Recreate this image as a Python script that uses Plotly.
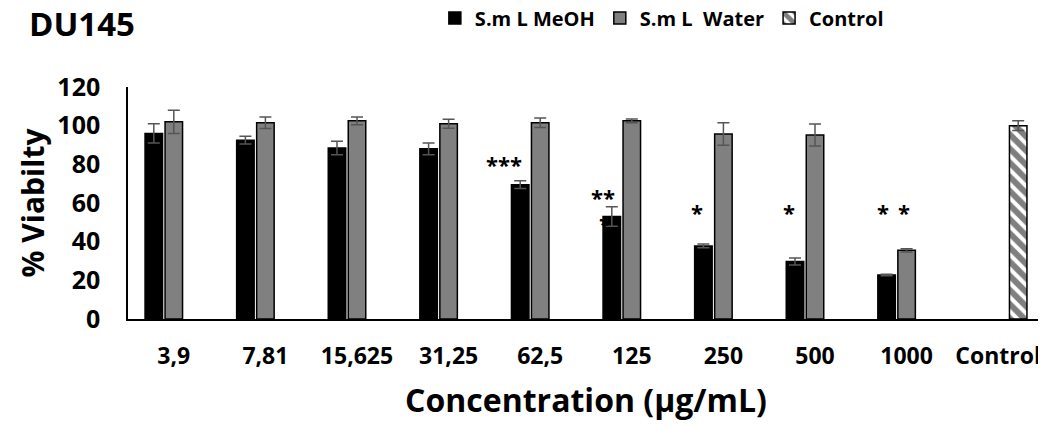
import plotly.graph_objects as go

categories = ["3,9", "7,81", "15,625", "31,25", "62,5", "125", "250", "500", "1000", "Control"]
meoh = [96, 92.5, 88.5, 88, 69.5, 53, 37.8, 29.7, 22.8, None]
meoh_err = [5, 2, 3.5, 3, 2, 5, 1, 1.8, 0.4, None]
water = [102, 101.5, 102.5, 101, 101.5, 102.5, 95.7, 95.2, 35.5, None]
water_err = [6, 3, 2, 2.3, 2.5, 1, 5.8, 5.7, 0.8, None]
control = [None] * 9 + [100]
control_err = [None] * 9 + [2.5]

sig_cats = ["62,5", "125", "125", "250", "500", "1000", "1000"]
sig_texts = ["***", "**", "*", "*", "*", "*", "*"]
sig_y = [80.2, 63.1, 49.7, 55.3, 55.3, 55.3, 55.3]
sig_shift = [-36, -29, -27, -26, -26, -24, -3]

FONT = "Open Sans"
err_col = "#555555"

# page body has an 8px default margin, so the figure is 8px smaller than the window
W, H = 1038, 419

fig = go.Figure()
fig.add_trace(go.Bar(
    x=categories, y=meoh, name="S.m L MeOH",
    marker=dict(color="black", line=dict(color="black", width=1.5)),
    error_y=dict(type="data", array=meoh_err, color=err_col, thickness=1.5, width=6),
))
fig.add_trace(go.Bar(
    x=categories, y=water, name="S.m L\u00a0 Water",
    marker=dict(color="#808080", line=dict(color="black", width=1.5)),
    error_y=dict(type="data", array=water_err, color=err_col, thickness=1.5, width=6),
))
fig.add_trace(go.Bar(
    x=categories, y=control, name="Control",
    marker=dict(color="white", line=dict(color="black", width=1.5),
                pattern=dict(shape="\\", fgcolor="black", bgcolor="white", size=10, solidity=0.6)),
    error_y=dict(type="data", array=control_err, color=err_col, thickness=1.5, width=6),
))

for c, t, yv, s in zip(sig_cats, sig_texts, sig_y, sig_shift):
    fig.add_annotation(x=categories.index(c), y=yv, text=t, xshift=s, showarrow=False,
                       font=dict(family=FONT, size=22, color="black", weight="bold"))

fig.add_annotation(xref="paper", yref="paper", x=-0.1105, y=1.272, xanchor="left", yanchor="middle",
                   text="<b>DU145</b>", showarrow=False,
                   font=dict(family=FONT, size=33, color="black"))

fig.update_layout(
    width=W, height=H,
    margin=dict(l=120, r=2, t=79, b=108),
    paper_bgcolor="white", plot_bgcolor="white",
    barmode="group", bargap=0.345, bargroupgap=0.125,
    font=dict(family=FONT, color="black"),
    showlegend=True,
    legend=dict(orientation="h", x=0.335, xref="paper", y=1 - 10 / H, yref="container",
                xanchor="left", yanchor="middle",
                font=dict(family=FONT, size=20, color="black", weight="bold"),
                itemwidth=30, traceorder="normal",
                bgcolor="rgba(0,0,0,0)"),
    xaxis=dict(type="category", range=[-0.5, len(categories) - 0.5], automargin=False,
               showline=True, linecolor="black", linewidth=1.5, ticks="",
               tickfont=dict(family=FONT, size=23, color="black", weight="bold"),
               ticklabelstandoff=16,
               title=dict(text="<b>Concentration (µg/mL)</b>", font=dict(family=FONT, size=32, color="black"),
                          standoff=19)),
    yaxis=dict(range=[0, 120], dtick=20, showline=True, linecolor="black", linewidth=1.5,
               showgrid=False, zeroline=False, ticks="", automargin=False,
               tickfont=dict(family=FONT, size=25, color="black", weight="bold"),
               ticklabelstandoff=21,
               title=dict(text="<b>% Viabilty</b>", font=dict(family=FONT, size=30, color="black"),
                          standoff=4)),
)

fig.write_html("out.html")
